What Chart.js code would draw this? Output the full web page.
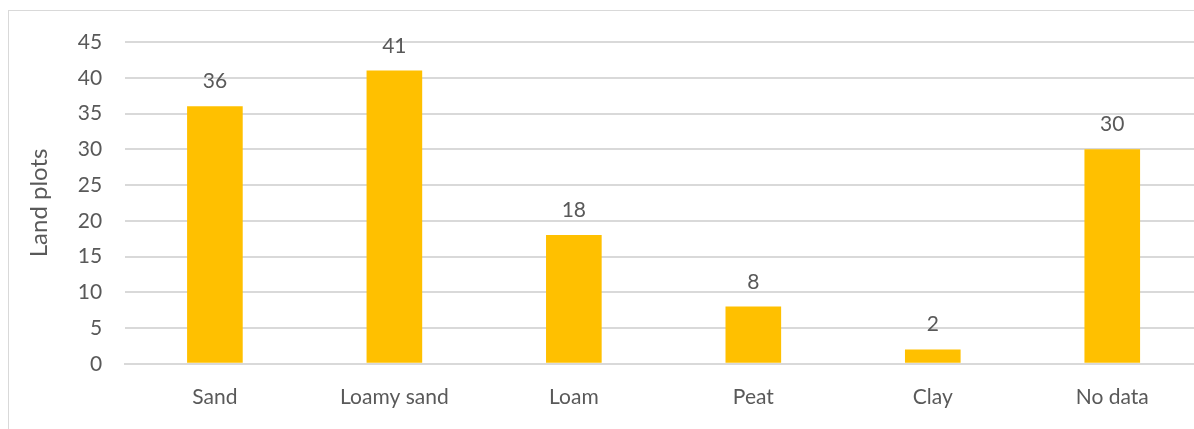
<!DOCTYPE html>
<html>
<head>
<meta charset="utf-8">
<script src="https://cdn.jsdelivr.net/npm/chart.js@4"></script>
<style>
  html, body { margin: 0; padding: 0; background: #fff; overflow: hidden; }
  .frame { position: absolute; left: 8px; top: 10px; width: 1400px; height: 600px; border: 1px solid #d9d9d9; }
  .wrap { position: absolute; left: 0; top: 0; width: 1202px; height: 429px; }
</style>
</head>
<body>
<div class="frame"></div>
<div class="wrap"><canvas id="soilChart"></canvas></div>
<script>
// Land plots by soil type
const categories = ['Sand', 'Loamy sand', 'Loam', 'Peat', 'Clay', 'No data'];
const plotCounts = [36, 41, 18, 8, 2, 30];
const yTicks = [0, 5, 10, 15, 20, 25, 30, 35, 40, 45];

const textColor = '#595959';
const fontFamily = 'Lato, "Open Sans", sans-serif';

// etiquetas de valor encima de cada barra
const valueLabels = {
  id: 'valueLabels',
  afterDatasetsDraw(chart) {
    const ctx = chart.ctx;
    const meta = chart.getDatasetMeta(0);
    ctx.save();
    ctx.fillStyle = textColor;
    ctx.font = '21px ' + fontFamily;
    ctx.textAlign = 'center';
    ctx.textBaseline = 'alphabetic';
    meta.data.forEach((bar, i) => {
      ctx.fillText(String(chart.data.datasets[0].data[i]), bar.x, bar.y - 18);
    });
    ctx.restore();
  }
};

new Chart(document.getElementById('soilChart'), {
  type: 'bar',
  data: {
    labels: categories,
    datasets: [{
      label: 'Land plots',
      data: plotCounts,
      backgroundColor: '#FFC000',
      borderWidth: 0,
      barPercentage: 0.31,
      categoryPercentage: 1
    }]
  },
  options: {
    responsive: true,
    maintainAspectRatio: false,
    animation: false,
    layout: { padding: { top: 42, bottom: 6, left: 25, right: 0 } },
    plugins: {
      legend: { display: false },
      tooltip: { enabled: false }
    },
    scales: {
      x: {
        grid: { display: false },
        border: { color: '#d9d9d9', width: 2 },
        ticks: { color: textColor, font: { family: fontFamily, size: 21 }, padding: 13 }
      },
      y: {
        min: 0,
        max: 45,
        afterBuildTicks: axis => { axis.ticks = yTicks.map(v => ({ value: v })); },
        grid: { color: '#d9d9d9', lineWidth: 2, drawTicks: false },
        border: { display: false },
        ticks: { color: textColor, font: { family: fontFamily, size: 21 }, padding: 23 },
        title: {
          display: true,
          text: 'Land plots',
          color: textColor,
          font: { family: fontFamily, size: 24 },
          padding: { top: 0, bottom: 1 }
        }
      }
    }
  },
  plugins: [valueLabels]
});
</script>
</body>
</html>
